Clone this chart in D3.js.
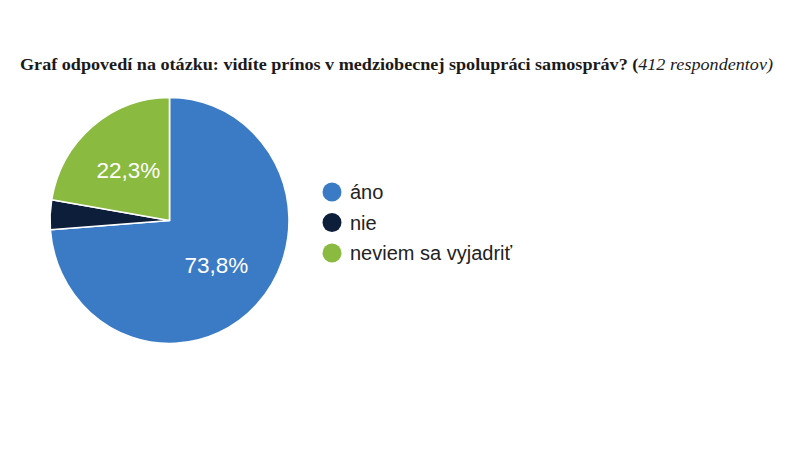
<!DOCTYPE html>
<html><head><meta charset="utf-8">
<script src="https://cdn.jsdelivr.net/npm/d3@7"></script>
<style>body{margin:0;background:#fff}svg{display:block}</style>
</head><body>
<script>
const categories = ["áno", "nie", "neviem sa vyjadriť"];
const values = [73.8, 3.9, 22.3];
const labels = ["73,8%", "", "22,3%"];
const colors = ["#3b7bc6", "#0d1e3a", "#8aba3f"];
const titleBold = "Graf odpovedí na otázku: vidíte prínos v medziobecnej spolupráci samospráv? (";
const titleItalic = "412 respondentov)";

const W = 800, H = 449;
const svg = d3.select("body").append("svg").attr("width", W).attr("height", H);

// title
const title = svg.append("text").attr("x", 20).attr("y", 69.5)
  .attr("font-family", "Liberation Serif, serif").attr("font-size", 16.6).attr("fill", "#1a1a1a")
  .attr("textLength", 753).attr("lengthAdjust", "spacingAndGlyphs");
title.append("tspan").attr("font-weight", "bold").text(titleBold);
title.append("tspan").attr("font-style", "italic").text(titleItalic);

// pie
const cx = 169.5, cy = 220.5, rx = 119.5, ry = 123;
const pie = d3.pie().sort(null).value(d => d);
const arcs = pie(values);
const arc = d3.arc().innerRadius(0).outerRadius(1);
const g = svg.append("g").attr("transform", `translate(${cx},${cy})`);
g.append("g").attr("transform", `scale(${rx},${ry})`)
  .selectAll("path").data(arcs).join("path")
  .attr("d", arc).attr("fill", (d, i) => colors[i])
  .attr("stroke", "#fff").attr("stroke-width", 1.6).attr("vector-effect", "non-scaling-stroke")
  .attr("stroke-linejoin", "round");

const labelArc = d3.arc().innerRadius(0.535).outerRadius(0.535);
g.selectAll("text.lbl").data(arcs).join("text").attr("class", "lbl")
  .attr("x", d => labelArc.centroid(d)[0] * rx)
  .attr("y", d => labelArc.centroid(d)[1] * ry)
  .attr("text-anchor", "middle").attr("dy", "0.36em")
  .attr("font-family", "Liberation Sans, Arial, sans-serif").attr("font-size", 22.5)
  .attr("fill", "#fff").text((d, i) => labels[i]);

// legend
const ly = d3.scalePoint().domain(categories).range([192, 253]);
const lg = svg.append("g").selectAll("g").data(categories).join("g")
  .attr("transform", d => `translate(332,${ly(d)})`);
lg.append("circle").attr("r", 9.5).attr("fill", (d, i) => colors[i]);
lg.append("text").attr("x", 18).attr("dy", "0.35em")
  .attr("font-family", "Liberation Sans, Arial, sans-serif").attr("font-size", 20)
  .attr("fill", "#222").text(d => d);
</script>
</body></html>
